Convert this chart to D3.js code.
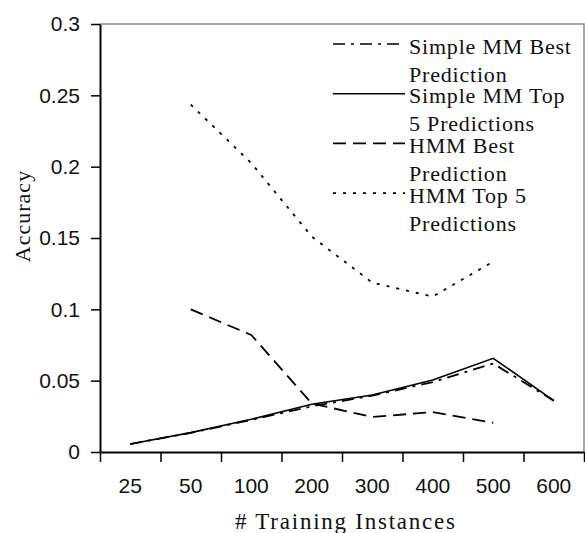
<!DOCTYPE html>
<html>
<head>
<meta charset="utf-8">
<script src="https://cdn.jsdelivr.net/npm/d3@7"></script>
<style>
  html, body { margin: 0; padding: 0; background: #fff; }
  svg { display: block; }
</style>
</head>
<body>
<svg id="chart" width="585" height="533"></svg>
<script>
// ---- data ----
const categories = ["25", "50", "100", "200", "300", "400", "500", "600"];
const yTickValues = [0, 0.05, 0.1, 0.15, 0.2, 0.25, 0.3];
const yTickLabels = ["0", "0.05", "0.1", "0.15", "0.2", "0.25", "0.3"];
const simpleBest = [0.0056, 0.0134, 0.0225, 0.032, 0.0395, 0.049, 0.062, 0.036];
const simpleTop5 = [0.0056, 0.0136, 0.0229, 0.0335, 0.040, 0.0505, 0.0657, 0.036];
const hmmBest = [null, 0.100, 0.082, 0.034, 0.0245, 0.028, 0.0205, null];
const hmmTop5 = [null, 0.2435, 0.2025, 0.151, 0.1187, 0.109, 0.1335, null];
const seriesNames = [["Simple MM Best", "Prediction"], ["Simple MM Top", "5 Predictions"], ["HMM Best", "Prediction"], ["HMM Top 5", "Predictions"]];
const seriesValues = [simpleBest, simpleTop5, hmmBest, hmmTop5];
const seriesDash = ["12,6,3,6", null, "13,7", "3,7"];
const yTitle = "Accuracy";
const xTitle = "# Training Instances";

// ---- layout ----
const L = 100, R = 584, T = 24, B = 452;
const svg = d3.select("#chart");
const serif = "'Liberation Serif', 'Times New Roman', serif";
const sans = "'Liberation Sans', Arial, sans-serif";

const x = d3.scaleBand().domain(categories).range([L, R]).padding(0);
const xIdx = d3.scaleLinear().domain([0, categories.length]).range([L, R]);
const y = d3.scaleLinear().domain([0, 0.3]).range([B, T]);

// frame (top and right, grey)
svg.append("path")
  .attr("d", `M${L},${T}H${R}V${B}`)
  .attr("fill", "none").attr("stroke", "#8a8a8a").attr("stroke-width", 1.5);

// y axis
const yAxis = svg.append("g").attr("transform", `translate(${L},0)`)
  .call(d3.axisLeft(y).tickValues(yTickValues)
    .tickFormat((d, i) => yTickLabels[i]).tickSize(9).tickPadding(11).tickSizeOuter(0));
yAxis.select(".domain").attr("stroke", "#000").attr("stroke-width", 2);
yAxis.selectAll(".tick line").attr("stroke", "#000").attr("stroke-width", 1.5);
yAxis.selectAll("text").attr("font-family", sans).attr("font-size", 21).attr("fill", "#111");

// x axis: boundary ticks
const xTicks = svg.append("g").attr("transform", `translate(0,${B})`)
  .call(d3.axisBottom(xIdx).tickValues(d3.range(categories.length + 1))
    .tickFormat("").tickSize(10).tickSizeOuter(0));
xTicks.select(".domain").attr("stroke", "#000").attr("stroke-width", 2);
xTicks.selectAll(".tick line").attr("stroke", "#000").attr("stroke-width", 1.5);

// x axis: category labels
const xLab = svg.append("g").attr("transform", `translate(0,${B})`)
  .call(d3.axisBottom(x).tickSize(0).tickPadding(26));
xLab.select(".domain").remove();
xLab.selectAll("text").attr("font-family", sans).attr("font-size", 21).attr("fill", "#111");

// axis titles
svg.append("text")
  .attr("transform", `translate(30,216) rotate(-90)`)
  .attr("text-anchor", "middle")
  .attr("font-family", serif).attr("font-size", 22).attr("letter-spacing", 1)
  .attr("fill", "#111").text(yTitle);
svg.append("text")
  .attr("x", 345).attr("y", 529)
  .attr("text-anchor", "middle")
  .attr("font-family", serif).attr("font-size", 23)
  .attr("textLength", 220).attr("lengthAdjust", "spacing")
  .attr("fill", "#111").text(xTitle);

// lines
const line = d3.line()
  .defined(d => d.v !== null)
  .x(d => x(d.c) + x.bandwidth() / 2)
  .y(d => y(d.v));

seriesValues.forEach((vals, i) => {
  const pts = categories.map((c, j) => ({ c, v: vals[j] }));
  svg.append("path")
    .datum(pts)
    .attr("d", line)
    .attr("fill", "none")
    .attr("stroke", "#000")
    .attr("stroke-width", i === 1 ? 1.6 : 1.8)
    .attr("stroke-dasharray", seriesDash[i]);
});

// legend
const lg = svg.append("g");
seriesNames.forEach((nm, i) => {
  const ly = 44 + i * 49.7;
  lg.append("line")
    .attr("x1", 333).attr("x2", 405).attr("y1", ly).attr("y2", ly)
    .attr("stroke", "#000").attr("stroke-width", 1.6)
    .attr("stroke-dasharray", seriesDash[i]);
  nm.forEach((t, k) => {
    lg.append("text")
      .attr("x", 409).attr("y", ly + 9.5 + k * 28)
      .attr("font-family", serif).attr("font-size", 22).attr("letter-spacing", 0.8)
      .attr("fill", "#111").text(t);
  });
});
</script>
</body>
</html>
